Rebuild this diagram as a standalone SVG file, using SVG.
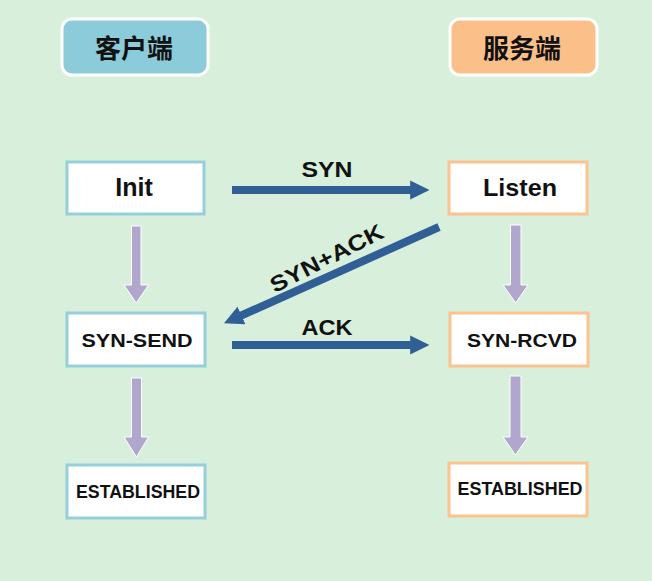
<svg xmlns="http://www.w3.org/2000/svg" width="652" height="581" viewBox="0 0 652 581">
<style>
.hdr{stroke:#ffffff;stroke-width:3}
.cl{fill:#ffffff;stroke:#95cfdc;stroke-width:3}
.sv{fill:#ffffff;stroke:#fbc48f;stroke-width:3}
.t{font-family:"Liberation Sans",Arial,sans-serif;font-weight:bold;fill:#111111;text-anchor:middle}
.h{font-family:"Noto Sans CJK SC","Noto Sans CJK JP",sans-serif;font-weight:bold;font-size:26px;fill:#111111;text-anchor:middle}
.blue{stroke:#2f5f95;stroke-width:8;fill:none}
.purple{fill:#b1a7cd;stroke:#ffffff;stroke-width:1}
</style>
<defs>
<marker id="bh" viewBox="0 0 10 10" refX="2" refY="5" markerWidth="2.4" markerHeight="2.4" orient="auto" markerUnits="strokeWidth">
<path d="M0,0 L10,5 L0,10 z" fill="#2f5f95"/>
</marker>
</defs>
<rect width="652" height="581" fill="#d8efdc"/>
<g id="hdr-client"><rect class="hdr" x="62" y="19" width="146" height="56" rx="10" fill="#8ccbd9"/><text class="h" x="134" y="58">客户端</text></g>
<g id="hdr-server"><rect class="hdr" x="450" y="19" width="147" height="56" rx="10" fill="#fbc08a"/><text class="h" x="522" y="58">服务端</text></g>
<g id="init"><rect class="cl" x="67" y="162" width="137" height="52"/><text class="t" x="134" y="196" font-size="25">Init</text></g>
<g id="listen"><rect class="sv" x="449" y="162" width="138" height="52"/><text class="t" x="520" y="196" font-size="24" textLength="74" lengthAdjust="spacingAndGlyphs">Listen</text></g>
<g id="syn-send"><rect class="cl" x="67" y="313" width="138" height="53"/><text class="t" x="137" y="347" font-size="19" textLength="111" lengthAdjust="spacingAndGlyphs">SYN-SEND</text></g>
<g id="syn-rcvd"><rect class="sv" x="450" y="313" width="138" height="53"/><text class="t" x="522" y="347" font-size="19" textLength="110" lengthAdjust="spacingAndGlyphs">SYN-RCVD</text></g>
<g id="est-client"><rect class="cl" x="67" y="465" width="138" height="53"/><text class="t" x="138" y="498" font-size="17.5" textLength="124" lengthAdjust="spacingAndGlyphs">ESTABLISHED</text></g>
<g id="est-server"><rect class="sv" x="449" y="463" width="138" height="53"/><text class="t" x="520" y="495" font-size="17.5" textLength="125" lengthAdjust="spacingAndGlyphs">ESTABLISHED</text></g>
<g id="connectors">
<path class="purple" d="M131.5,226 H141 V285 H148.5 L136.2,303 L124,285 H131.5 Z"/>
<path class="purple" d="M131.5,378 H141.5 V437 H148.5 L136.5,457 L124,437 H131.5 Z"/>
<path class="purple" d="M510.5,225 H521 V285 H528 L515.7,303 L503,285 H510.5 Z"/>
<path class="purple" d="M510,376 H521 V437 H528 L515.5,455 L503,437 H510 Z"/>
<line class="blue" x1="232" y1="190" x2="414" y2="190" marker-end="url(#bh)"/>
<line class="blue" x1="232" y1="345" x2="414" y2="345" marker-end="url(#bh)"/>
<line class="blue" x1="439" y1="227" x2="238" y2="317" marker-end="url(#bh)"/>
<text class="t" x="327" y="177" font-size="22" textLength="51" lengthAdjust="spacingAndGlyphs">SYN</text>
<text class="t" x="327" y="335" font-size="22" textLength="51" lengthAdjust="spacingAndGlyphs">ACK</text>
<text class="t" x="0" y="0" font-size="22" textLength="124" lengthAdjust="spacingAndGlyphs" transform="translate(330,265) rotate(-27)">SYN+ACK</text>
</g>
</svg>
